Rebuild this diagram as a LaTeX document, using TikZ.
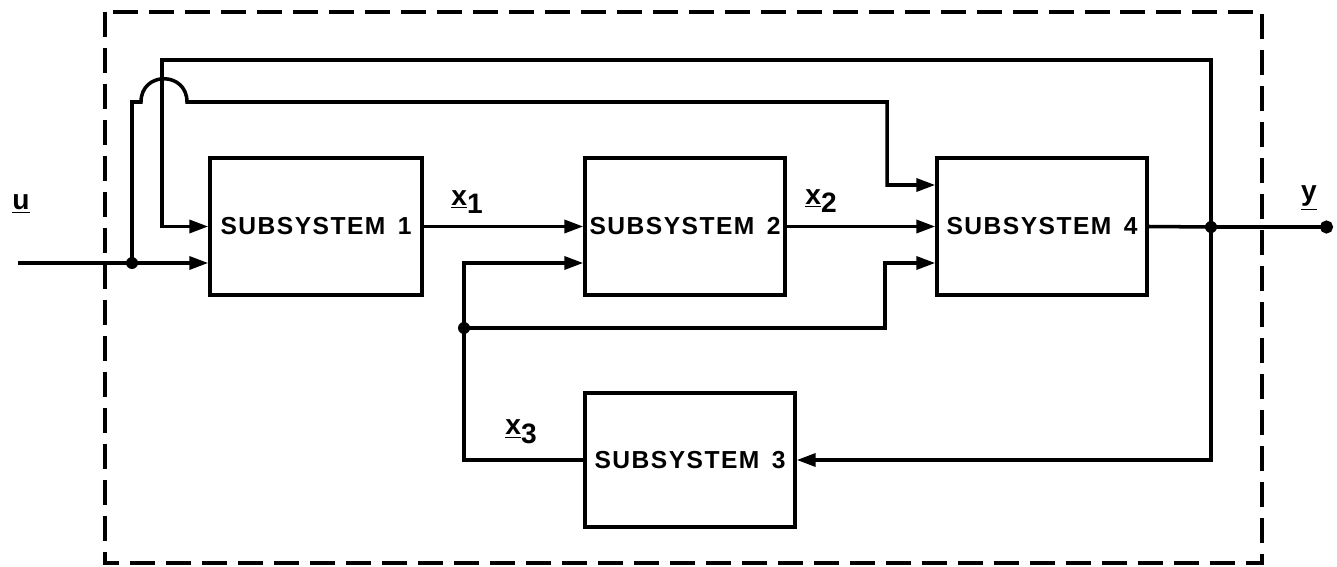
\documentclass[tikz,border=0pt]{standalone}
\usepackage{fontspec}
\setmainfont{Liberation Sans}
\newfontfamily\lbl[LetterSpace=6]{Liberation Sans}
\usetikzlibrary{arrows.meta,calc}
\newcommand{\subsys}[1]{SUBSYSTEM\hspace{0.5em}#1}
\tikzset{
  sys/.style={draw, line width=2pt, minimum height=2.74cm, inner sep=0pt,
    font=\lbl\bfseries\fontsize{14}{16}\selectfont},
  wire/.style={line width=2pt},
  arr/.style={wire, -{Triangle[length=0.38cm,width=0.26cm]}},
  dotc/.style={fill, circle, inner sep=0pt, minimum size=0.24cm},
  tag/.style={font=\lbl\bfseries\fontsize{16}{18}\selectfont, inner sep=0pt},
  frame/.style={line width=2pt, dash pattern=on 0.5cm off 0.22cm}
}
\begin{document}
\begin{tikzpicture}[x=0.02cm, y=-0.02cm]
\useasboundingbox (0,0) rectangle (1337,567);
\draw[frame] (105,12) rectangle (1262,563);

\node[sys, minimum width=4.24cm] (b1) at (316,226.5) {\subsys{1}};
\node[sys, minimum width=4.0cm] (b2) at (685,226.5) {\subsys{2}};
\node[sys, minimum width=4.2cm] (b4) at (1042,226.5) {\subsys{4}};
\node[sys, minimum width=4.2cm, minimum height=2.68cm] (b3) at (690,460) {\subsys{3}};

\coordinate (uin) at (18,263);
\coordinate (j1) at (132,263);
\coordinate (hopL) at (141,102);
\coordinate (hopR) at (187,102);
\coordinate (c4a) at (887,102);
\coordinate (c4b) at (887,185);
\coordinate (t1) at (162,60);
\coordinate (t2) at (1211,60);
\coordinate (jy) at (1211,227);
\coordinate (yout) at (1333,227);
\coordinate (k) at (464,263);
\coordinate (j2) at (464,328);
\coordinate (c4c) at (885,263);

% input
\draw[arr] (uin) -- (b1.west |- j1);
\node[dotc] at (j1) {};
\draw[arr] (j1) |- (hopL) .. controls (141,71) and (187,71) .. (hopR) -- (c4a) -- (c4b) -- (b4.west |- c4b);
% top feedback
\draw[arr] (jy) -- (t2) -- (t1) |- (b1.west);
% x1, x2
\draw[arr] (b1.east) -- (b2.west);
\draw[arr] (b2.east) -- (b4.west);
% output
\draw[wire] (b4.east) -- (jy);
\draw[wire, -{Circle[length=0.26cm]}] (jy) -- (yout);
\node[dotc] at (jy) {};
% feedback to subsystem 3
\draw[arr] (jy) |- (b3.east);
% x3
\draw[arr] (b3.west) -| (k) -- (b2.west |- k);
\node[dotc] at (j2) {};
\draw[arr] (j2) -| (c4c) -- (b4.west |- c4c);

% labels
\node[tag] (lu) at (21,204) {\underline{u}};
\node[tag] (ly) at (1309,198) {\underline{y}};
\node[tag] (lx1) at (467,202) {\underline{x}\raisebox{-5pt}{1}};
\node[tag] (lx2) at (821,201) {\underline{x}\raisebox{-5pt}{2}};
\node[tag] (lx3) at (521,432) {\underline{x}\raisebox{-5pt}{3}};
\end{tikzpicture}
\end{document}
